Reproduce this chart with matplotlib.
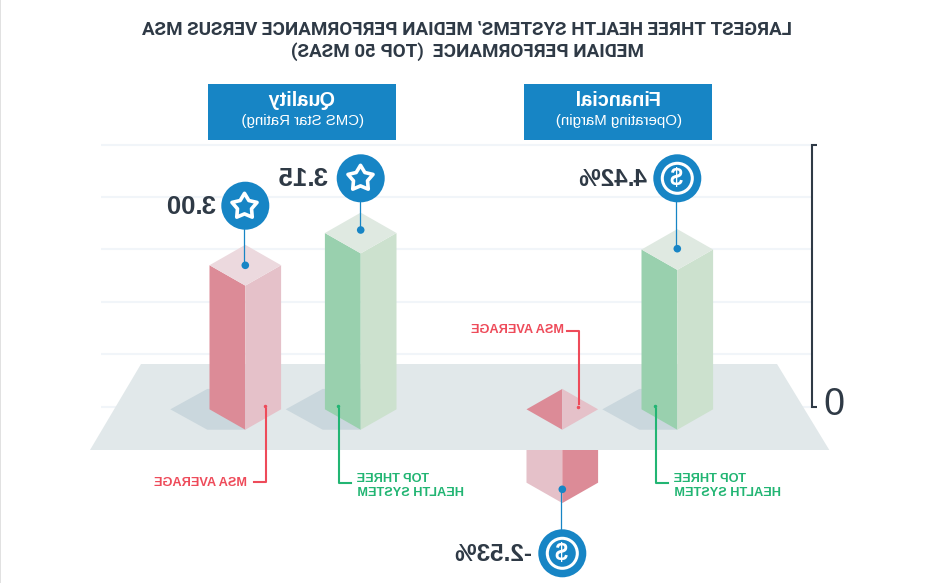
import numpy as np
import matplotlib
matplotlib.use("Agg")
import matplotlib.pyplot as plt
from matplotlib.markers import MarkerStyle
from matplotlib.path import Path
from matplotlib.patches import Ellipse, Polygon, Rectangle

plt.rcParams['font.family'] = ['Liberation Sans', 'DejaVu Sans']

# Data
bar_names = ["Quality MSA", "Quality top three", "Financial top three"]
bar_centers = [245.3, 360.7, 677.3]
bar_heights = [2.70, 3.315, 3.00]      # height on the grid, one unit per gridline
bar_kinds = ["msa", "top", "top"]
value_labels = ["3.00", "3.15", "4.42%"]
neg_center = 562.3
neg_height = -1.45
neg_label = "-2.53%"
grid_levels = [0, 1, 2, 3, 4, 5]
panel_names = ["Quality", "Financial"]
panel_subs = ["(CMS Star Rating)", "(Operating Margin)"]
panel_lefts = [208.3, 524.5]

# Colours
dark = {"msa": "#dc8b97", "top": "#99d0ae"}
light = {"msa": "#e5c1c9", "top": "#cce1ce"}
top_face = {"msa": "#ecd9de", "top": "#dfe9e1"}
blue = "#1785c5"
ink = "#2f3a46"
red = "#ee4b5a"
green = "#22b573"

# Scale of the picture: 52.4 px per grid unit, zero at y = 406.7 px
zero_px = 406.7
unit = 52.4
half_w = 35.8
rise = 20.4 / unit


def py(px):
    return (zero_px - px) / unit


fig = plt.figure(figsize=(9.32, 5.83), dpi=100)
ax = fig.add_axes([0, 0, 1, 1])
# x runs backwards here, the whole picture is flipped when it is saved
ax.set_xlim(932, 0)
ax.set_ylim(py(583), py(0))
ax.axis("off")


def poly(points, color, z=2):
    ax.add_patch(Polygon(points, closed=True, fc=color, ec="none", zorder=z))


def circle(cx, cy_px, r, color, z=6, **kw):
    ax.add_patch(Ellipse((cx, py(cy_px)), 2 * r, 2 * r / unit, fc=color, zorder=z, **kw))


# Edge line
ax.plot([0.5, 0.5], [py(0), py(583)], color="#dcdcdc", lw=1.2, zorder=1)

# Grid
for g in grid_levels:
    ax.plot([101, 811], [g, g], color="#f1f5f9", lw=1.5, zorder=1, solid_capstyle="butt")

# Axis bracket
ax.plot([817, 812, 812, 817], [5, 5, 0, 0], color=ink, lw=1.5, zorder=3,
        solid_joinstyle="miter", solid_capstyle="butt")
ax.text(835, py(405), "0", fontsize=27, color=ink, ha="center", va="center", zorder=3)

# Floor
poly([(141, py(364)), (777, py(364)), (829.3, py(450)), (90, py(450))], "#e1e8ea", 2)

# Bars
base = -0.05
for cx, h, kind in zip(bar_centers, bar_heights, bar_kinds):
    poly([(cx - 75, base), (cx - 38, base + rise), (cx, base + rise),
          (cx, base - rise), (cx - 38, base - rise)], "#cad7dd", 3)
    poly([(cx - half_w, base), (cx, base - rise), (cx, h - rise), (cx - half_w, h)], dark[kind], 4)
    poly([(cx + half_w, base), (cx, base - rise), (cx, h - rise), (cx + half_w, h)], light[kind], 4)
    poly([(cx - half_w, h), (cx, h + rise), (cx + half_w, h), (cx, h - rise)], top_face[kind], 4)

# MSA financial: diamond above the floor, lower part under it
poly([(neg_center - half_w, base), (neg_center, base + rise), (neg_center, base - rise)], dark["msa"], 4)
poly([(neg_center + half_w, base), (neg_center, base + rise), (neg_center, base - rise)], light["msa"], 4)
poly([(neg_center - half_w, py(450)), (neg_center, py(450)),
      (neg_center, neg_height - rise), (neg_center - half_w, neg_height)], light["msa"], 4)
poly([(neg_center + half_w, py(450)), (neg_center, py(450)),
      (neg_center, neg_height - rise), (neg_center + half_w, neg_height)], dark["msa"], 4)

# Fat five point star for the icons
angles = np.pi / 2 + np.arange(10) * np.pi / 5
radii = np.where(np.arange(10) % 2 == 0, 1.0, 0.56)
star_verts = np.column_stack([radii * np.cos(angles), radii * np.sin(angles)])
star_path = Path(np.vstack([star_verts, star_verts[0]]), closed=True)
star_marker = MarkerStyle(star_path, joinstyle="round")


# Callouts
def star_icon(cx, cy_px):
    ax.plot([cx], [py(cy_px)], marker=star_marker, ms=19, mfc=blue, mec="white", mew=2.6, zorder=7)


def dollar_icon(cx, cy_px):
    circle(cx, cy_px, 15, "none", z=7, lw=2.2, edgecolor="white")
    ax.text(cx, py(cy_px + 0.5), "$", color="white", fontsize=16.5, fontweight="bold",
            ha="center", va="center", zorder=8)


icons = [(245.3, 205.7, 265.3), (360.7, 178.3, 230), (677.3, 178.3, 248.7), (neg_center, 553.3, 489.3)]
icon_draw = [star_icon, star_icon, dollar_icon, dollar_icon]
for (cx, cy, dot), draw in zip(icons, icon_draw):
    ax.plot([cx, cx], [py(cy), py(dot)], color=blue, lw=0.9, zorder=6)
    circle(cx, dot, 3.8, blue, ec="none")
    circle(cx, cy, 24, blue, ec="none")
    draw(cx, cy)

label_edges = [217, 329, 647, 532]
label_sizes = [18.5, 18.5, 17.5, 17.5]
label_ys = [207, 179.5, 179.5, 554.5]
for lab, edge, y, size in zip(value_labels + [neg_label], label_edges, label_ys, label_sizes):
    ax.text(edge, py(y), lab, color=ink, fontsize=size, fontweight="bold",
            ha="left", va="center", zorder=7)

# Red and green labels
ax.plot([266, 266, 254], [py(409), py(482), py(482)], color=red, lw=1.5, zorder=5)
ax.plot([266], [py(406)], marker="o", ms=1.5, color=red, zorder=5)
ax.text(247, py(483), "MSA AVERAGE", color=red, fontsize=9.2, fontweight="bold", ha="left", va="center")

ax.plot([567, 579, 579], [py(330.7), py(330.7), py(404)], color=red, lw=1.5, zorder=5)
ax.plot([579], [py(407)], marker="o", ms=1.5, color=red, zorder=5)
ax.text(564, py(330.5), "MSA AVERAGE", color=red, fontsize=9.2, fontweight="bold", ha="left", va="center")

for x_line, x_text in [(338.7, 357), (655.7, 674)]:
    ax.plot([x_line, x_line, x_line + 12], [py(409), py(482.7), py(482.7)], color=green, lw=1.5, zorder=5)
    ax.plot([x_line], [py(406)], marker="o", ms=1.5, color=green, zorder=5)
    ax.text(x_text, py(478.5), "TOP THREE", color=green, fontsize=9.2, fontweight="bold", ha="right", va="center")
    ax.text(x_text, py(493), "HEALTH SYSTEM", color=green, fontsize=9.2, fontweight="bold", ha="right", va="center")

# Blue panels
for name, sub, left in zip(panel_names, panel_subs, panel_lefts):
    ax.add_patch(Rectangle((left, py(140)), 188, py(84) - py(140), fc=blue, ec="none", zorder=3))
    ax.text(left + 94, py(100.5), name, color="white", fontsize=14.3, fontweight="bold",
            ha="center", va="center", zorder=4)
    ax.text(left + 94, py(121.5), sub, color="white", fontsize=10.8, ha="center", va="center", zorder=4)

# Title
ax.text(467.5, py(30), "LARGEST THREE HEALTH SYSTEMS\u2019 MEDIAN PERFORMANCE VERSUS MSA",
        color=ink, family="Roboto", fontsize=13.5, fontweight="bold", ha="center", va="center")
ax.text(468, py(52), "MEDIAN PERFORMANCE  (TOP 50 MSAS)",
        color=ink, family="Roboto", fontsize=13.5, fontweight="bold", ha="center", va="center")

# The reference is mirrored left to right, so flip the finished canvas
fig.canvas.draw()
pixels = np.asarray(fig.canvas.buffer_rgba())
plt.imsave("out.png", pixels[:, ::-1])
